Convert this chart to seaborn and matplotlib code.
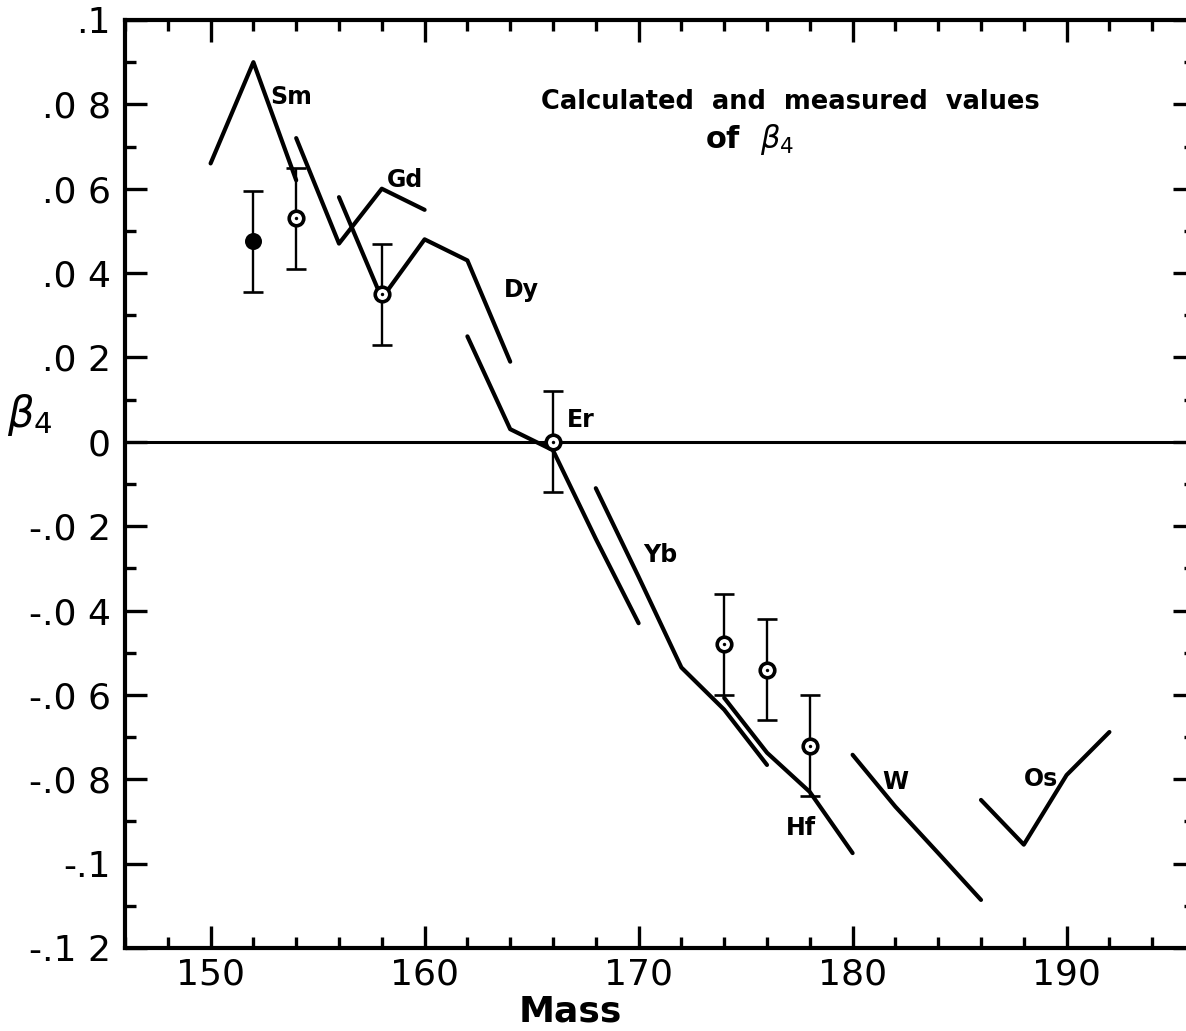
import numpy as np
import pandas as pd
import matplotlib
matplotlib.use("Agg")
import matplotlib.pyplot as plt
import seaborn as sns
from matplotlib.ticker import MultipleLocator, FixedLocator, FixedFormatter

sns.set_theme(style="white")
plt.rcParams['font.family'] = ['DejaVu Sans']
plt.rcParams['mathtext.fontset'] = 'dejavusans'

# ---- calculated beta4 curves (one per element) ----
sm_mass = [150, 152, 154]
sm_beta = [0.066, 0.090, 0.062]
gd_mass = [154, 156, 158, 160]
gd_beta = [0.072, 0.047, 0.060, 0.055]
dy_mass = [156, 158, 160, 162, 164]
dy_beta = [0.058, 0.034, 0.048, 0.043, 0.019]
er_mass = [162, 164, 166, 168, 170]
er_beta = [0.025, 0.003, -0.002, -0.023, -0.043]
yb_mass = [168, 170, 172, 174, 176]
yb_beta = [-0.011, -0.032, -0.0535, -0.0635, -0.0766]
hf_mass = [174, 176, 178, 180]
hf_beta = [-0.0607, -0.0737, -0.083, -0.0975]
w_mass = [180, 182, 184, 186]
w_beta = [-0.0742, -0.0865, -0.0975, -0.1086]
os_mass = [186, 188, 190, 192]
os_beta = [-0.0849, -0.0955, -0.079, -0.0688]

# ---- measured values ----
meas_mass = [152, 154, 158, 166, 174, 176, 178]
meas_beta = [0.0475, 0.053, 0.035, 0.0, -0.048, -0.054, -0.072]
meas_err = [0.012, 0.012, 0.012, 0.012, 0.012, 0.012, 0.012]
meas_filled = [True, False, False, False, False, False, False]

# ---- labels ----
element_names = ["Sm", "Gd", "Dy", "Er", "Yb", "Hf", "W", "Os"]
ytick_vals = [0.10, 0.08, 0.06, 0.04, 0.02, 0.0, -0.02, -0.04, -0.06, -0.08, -0.10, -0.12]
ytick_labels = [".1", ".0 8", ".0 6", ".0 4", ".0 2", "0", "-.0 2", "-.0 4", "-.0 6", "-.0 8", "-.1", "-.1 2"]
xtick_vals = [150, 160, 170, 180, 190]
xtick_labels = ["150", "160", "170", "180", "190"]

curves = [
    ("Sm", sm_mass, sm_beta), ("Gd", gd_mass, gd_beta), ("Dy", dy_mass, dy_beta),
    ("Er", er_mass, er_beta), ("Yb", yb_mass, yb_beta), ("Hf", hf_mass, hf_beta),
    ("W", w_mass, w_beta), ("Os", os_mass, os_beta),
]
rows = []
for name, ms, bs in curves:
    for i, (m, b) in enumerate(zip(ms, bs)):
        rows.append({"element": name, "mass": m, "beta": b, "order": i})
curve_df = pd.DataFrame(rows)

meas_df = pd.DataFrame({"mass": meas_mass, "beta": meas_beta, "err": meas_err,
                        "filled": meas_filled})

W_PX, H_PX = 1186, 1031
fig = plt.figure(figsize=(W_PX / 100, H_PX / 100), dpi=100)
fig.patch.set_facecolor("white")
# axes: left spine at x=125 px, top at y=20 px, bottom at y=948 px, right beyond the edge
left, right, top, bottom = 125, 1195, 20, 948
ax = fig.add_axes([left / W_PX, 1 - bottom / H_PX, (right - left) / W_PX, (bottom - top) / H_PX])
ax.set_facecolor("white")

# zero line
ax.axhline(0, color="black", lw=2.2, zorder=1)

# calculated curves
sns.lineplot(data=curve_df, x="mass", y="beta", units="element", estimator=None,
             sort=False, color="black", lw=3.0, ax=ax, legend=False, zorder=2,
             solid_capstyle="round")

# measured error bars
ax.errorbar(meas_df["mass"], meas_df["beta"], yerr=meas_df["err"], fmt="none",
            ecolor="black", elinewidth=1.7, capsize=7, capthick=1.9, zorder=3)

open_df = meas_df[~meas_df["filled"]]
fill_df = meas_df[meas_df["filled"]]
sns.scatterplot(data=open_df, x="mass", y="beta", marker="o", s=110,
                facecolor="white", edgecolor="black", linewidth=2.6, ax=ax,
                legend=False, zorder=4)
sns.scatterplot(data=open_df, x="mass", y="beta", marker="o", s=6,
                color="black", linewidth=0, ax=ax, legend=False, zorder=5)
sns.scatterplot(data=fill_df, x="mass", y="beta", marker="o", s=150,
                color="black", linewidth=0, ax=ax, legend=False, zorder=5)

# element labels
label_pos = {
    "Sm": (153.75, 0.0818), "Gd": (159.1, 0.0621), "Dy": (164.5, 0.036),
    "Er": (167.3, 0.0052), "Yb": (171.0, -0.0268), "Hf": (177.6, -0.0915),
    "W": (182.0, -0.0806), "Os": (188.8, -0.0800),
}
for name in element_names:
    x, y = label_pos[name]
    ax.text(x, y, name, fontsize=17, fontweight="bold", ha="center", va="center",
            color="black")

ax.text(177.1, 0.0806, "Calculated  and  measured  values", fontsize=18.5,
        fontweight="bold", ha="center", va="center", color="black")
ax.text(175.2, 0.0716, r"of  $\mathit{\beta}_{4}$", fontsize=22, fontweight="bold",
        ha="center", va="center", color="black")

# axes limits & ticks
ax.set_xlim(146, 196)
ax.set_ylim(-0.12, 0.10)
ax.xaxis.set_major_locator(FixedLocator(xtick_vals))
ax.xaxis.set_major_formatter(FixedFormatter(xtick_labels))
ax.xaxis.set_minor_locator(MultipleLocator(2))
ax.yaxis.set_major_locator(FixedLocator(ytick_vals))
ax.yaxis.set_major_formatter(FixedFormatter(ytick_labels))
ax.yaxis.set_minor_locator(MultipleLocator(0.01))

ax.tick_params(which="both", direction="in", top=True, right=True, bottom=True,
               left=True, colors="black", width=2.4)
ax.tick_params(which="major", length=16, labelsize=26)
ax.tick_params(which="minor", length=8)
ax.tick_params(axis="y", which="major", pad=10)
ax.tick_params(axis="x", which="major", pad=7)

for s in ax.spines.values():
    s.set_visible(True)
    s.set_color("black")
    s.set_linewidth(3.0)

ax.set_xlabel("Mass", fontsize=26, fontweight="bold", color="black")
ax.xaxis.set_label_coords(0.416, -0.068)
ax.xaxis.label.set_va("center")
ax.set_ylabel(r"$\mathit{\beta}_{4}$", fontsize=30, rotation=0, color="black")
ax.yaxis.set_label_coords(-0.089, 0.574)
ax.yaxis.label.set_va("center")
ax.grid(False)

fig.savefig("out.png", dpi=100, facecolor="white")
